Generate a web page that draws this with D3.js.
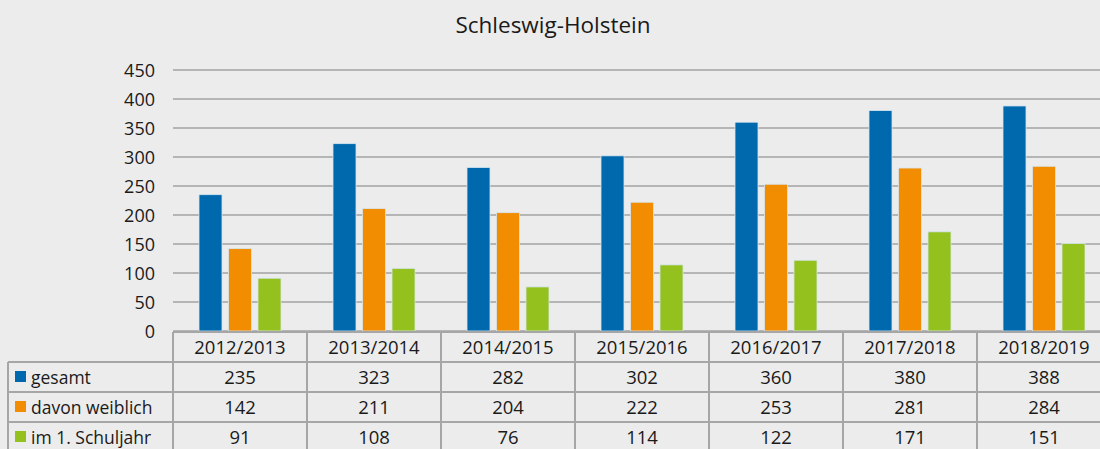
<!DOCTYPE html>
<html>
<head>
<meta charset="utf-8">
<script src="https://cdn.jsdelivr.net/npm/d3@7"></script>
<style>
  body { margin: 0; background: #ececec; }
  svg { display: block; font-family: "Open Sans", "Noto Sans", sans-serif; }
</style>
</head>
<body>
<div id="chart"></div>
<script>
var width = 1100;
var height = 449;

var years = ["2012/2013", "2013/2014", "2014/2015", "2015/2016", "2016/2017", "2017/2018", "2018/2019"];
var seriesNames = ["gesamt", "davon weiblich", "im 1. Schuljahr"];
var gesamt = [235, 323, 282, 302, 360, 380, 388];
var weiblich = [142, 211, 204, 222, 253, 281, 284];
var schuljahr = [91, 108, 76, 114, 122, 171, 151];
var yTicks = [0, 50, 100, 150, 200, 250, 300, 350, 400, 450];
var colors = ["#0069ad", "#f28c00", "#95c11f"];

var series = [gesamt, weiblich, schuljahr];

var plot = {left: 173, right: 1111, top: 70, bottom: 331};
var rowH = 30;

var svg = d3.select("#chart").append("svg")
    .attr("width", width)
    .attr("height", height);

svg.append("text")
    .attr("x", 553)
    .attr("y", 33)
    .attr("text-anchor", "middle")
    .attr("font-size", 22.5)
    .attr("fill", "#1a1a1a")
    .text("Schleswig-Holstein");

var xScale = d3.scaleBand().domain(years).range([plot.left, plot.right]);
var xInner = d3.scaleBand().domain(d3.range(3)).range([-41, 41]).paddingInner(0.22);
var yScale = d3.scaleLinear().domain([0, 450]).range([plot.bottom, plot.top]);

// gridlines
svg.append("g")
    .selectAll("line")
    .data(yTicks)
    .enter()
    .append("line")
    .attr("x1", plot.left)
    .attr("x2", width)
    .attr("y1", d => yScale(d))
    .attr("y2", d => yScale(d))
    .attr("stroke", "#a3a3a3")
    .attr("stroke-width", 1.5);

// y labels
svg.append("g")
    .selectAll("text")
    .data(yTicks)
    .enter()
    .append("text")
    .attr("x", 155)
    .attr("y", d => yScale(d) + 6.5)
    .attr("text-anchor", "end")
    .attr("font-size", 18)
    .attr("fill", "#1a1a1a")
    .text(d => d);

// bars
series.forEach(function(values, s) {
    svg.append("g")
        .selectAll("rect")
        .data(values)
        .enter()
        .append("rect")
        .attr("x", (d, i) => xScale(years[i]) + xScale.bandwidth() / 2 + xInner(s))
        .attr("width", xInner.bandwidth())
        .attr("y", d => yScale(d))
        .attr("height", d => yScale(0) - yScale(d))
        .attr("fill", colors[s])
        .attr("stroke", "#d6e6f0")
        .attr("stroke-width", 0.8);
});

// table
var table = svg.append("g");
var tableTop = plot.bottom + 1;
var lineColor = "#a6a6a6";

// header cells
table.selectAll(".hdr")
    .data(years)
    .enter()
    .append("text")
    .attr("x", d => xScale(d) + xScale.bandwidth() / 2)
    .attr("y", tableTop + 22)
    .attr("text-anchor", "middle")
    .attr("font-size", 18.5)
    .attr("fill", "#1a1a1a")
    .text(d => d);

series.forEach(function(values, s) {
    var rowY = tableTop + rowH * (s + 1);
    table.append("rect")
        .attr("x", 15)
        .attr("y", rowY + 9)
        .attr("width", 11)
        .attr("height", 11)
        .attr("fill", colors[s]);
    table.append("text")
        .attr("x", 31)
        .attr("y", rowY + 22)
        .attr("font-size", 17.5)
        .attr("fill", "#1a1a1a")
        .text(seriesNames[s]);
    table.selectAll(".v" + s)
        .data(values)
        .enter()
        .append("text")
        .attr("x", (d, i) => xScale(years[i]) + xScale.bandwidth() / 2)
        .attr("y", rowY + 22)
        .attr("text-anchor", "middle")
        .attr("font-size", 18.5)
        .attr("fill", "#1a1a1a")
        .text(d => d);
});

// table lines
var hLines = [0, 1, 2, 3, 4];
table.selectAll(".hl")
    .data(hLines)
    .enter()
    .append("line")
    .attr("x1", d => d == 0 ? plot.left : 8)
    .attr("x2", width)
    .attr("y1", d => tableTop + d * rowH)
    .attr("y2", d => tableTop + d * rowH)
    .attr("stroke", lineColor)
    .attr("stroke-width", 2);

table.selectAll(".vl")
    .data(years)
    .enter()
    .append("line")
    .attr("x1", d => xScale(d))
    .attr("x2", d => xScale(d))
    .attr("y1", tableTop)
    .attr("y2", height)
    .attr("stroke", lineColor)
    .attr("stroke-width", 2);

table.append("line")
    .attr("x1", 8)
    .attr("x2", 8)
    .attr("y1", tableTop + rowH)
    .attr("y2", height)
    .attr("stroke", lineColor)
    .attr("stroke-width", 2);
</script>
</body>
</html>
